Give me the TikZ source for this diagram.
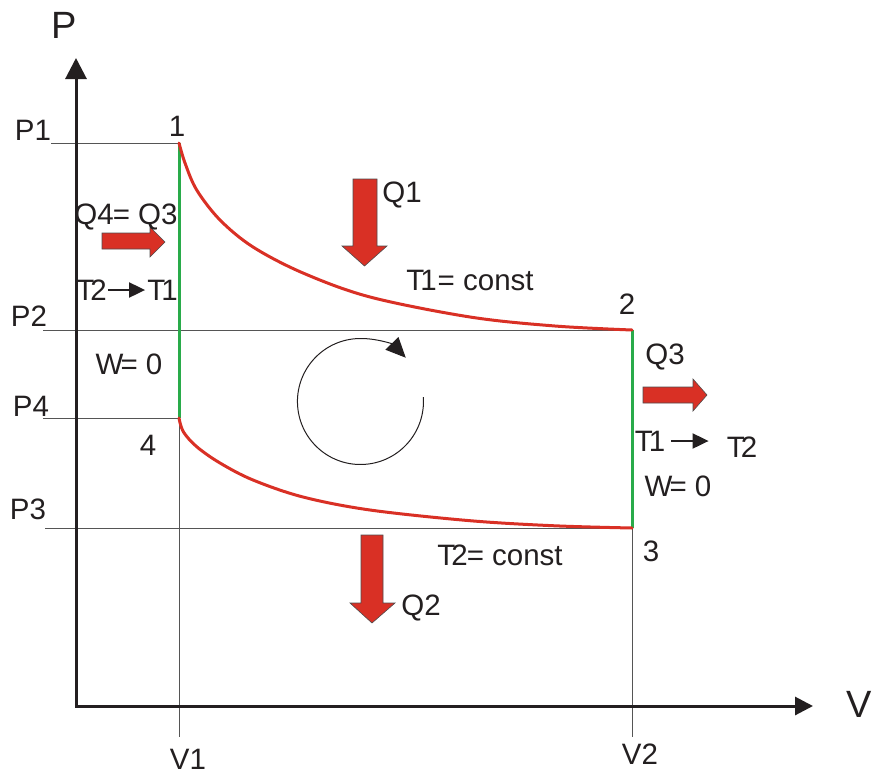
\documentclass[tikz,border=0pt]{standalone}
\usepackage{fontspec}
\setmainfont{Liberation Sans}
\usetikzlibrary{arrows.meta}
\definecolor{cred}{RGB}{217,48,37}
\definecolor{cgreen}{RGB}{41,171,74}
\definecolor{cgray}{RGB}{85,85,85}
\definecolor{cblack}{RGB}{35,31,32}
\begin{document}
\begin{tikzpicture}[x=1pt,y=-1pt,
  lbl/.style={inner sep=0pt, text=cblack, font=\fontsize{29.5}{32}\selectfont},
  biglbl/.style={inner sep=0pt, text=cblack, font=\fontsize{38}{40}\selectfont},
  guide/.style={draw=cgray, line width=1pt},
  axisline/.style={draw=cblack, line width=3pt, line join=miter},
  isochore/.style={draw=cgreen, line width=3pt},
  isotherm/.style={draw=cred, line width=3pt, line cap=round},
  heatarrow/.style={fill=cred, draw=cblack!80, line width=0.6pt, line join=miter},
  smallarrow/.style={draw=cblack, line width=2pt, -{Triangle[length=16pt,width=15pt]}},
  cycle arrow/.style={draw=cblack, line width=1pt, -{Triangle[length=20pt,width=18pt]}}
]
\useasboundingbox (0,0) rectangle (872,774);

% key coordinates
\coordinate (O) at (76,706);
\coordinate (ytip) at (76,58);
\coordinate (xtip) at (813,706);
\coordinate (s1) at (179,143);
\coordinate (s2) at (632,330);
\coordinate (s3) at (632,528);
\coordinate (s4) at (179,418);
\coordinate (p1s) at (51,143);
\coordinate (p2s) at (43,330);
\coordinate (p4s) at (43,418);
\coordinate (p3s) at (45,528);
\coordinate (v1e) at (179,737);
\coordinate (v2e) at (632,737);
\coordinate (cc) at (360.5,401.5);
\coordinate (cstart) at (423.3,397.1);

% guide lines
\draw[guide] (p1s) -- (s1);
\draw[guide] (p2s) -- (s2);
\draw[guide] (p4s) -- (s4);
\draw[guide] (p3s) -- (s3);
\draw[guide] (s1) -- (v1e);
\draw[guide] (s2) -- (v2e);

% axes
\draw[axisline, {Triangle[length=21pt,width=21pt]}-{Triangle[length=18pt,width=18pt]}] (ytip) |- (xtip);

% isochores
\draw[isochore] (s1) -- (s4);
\draw[isochore] (s2) -- (s3);

% isotherms
\draw[isotherm] plot[smooth, tension=0.55] coordinates {(s1) (185,163) (196.7,190) (220,220) (253,247) (303,273) (370,297) (470,317) (555,326) (s2)};
\draw[isotherm] plot[smooth, tension=0.55] coordinates {(s4) (183.3,431.7) (196.7,446.7) (220,463) (253,480) (303,497) (370,510) (470,520.7) (555,525.8) (s3)};

% cycle direction
\draw[cycle arrow] (cstart) arc[start angle=-4, end angle=316, radius=63];

% heat arrows
\draw[heatarrow] (102,233) -- (150,233) -- (150,227) -- (165,242) -- (150,257) -- (150,249) -- (102,249) -- cycle;
\draw[heatarrow] (643,387) -- (693,387) -- (693,379) -- (707,395) -- (693,411) -- (693,403) -- (643,403) -- cycle;
\draw[heatarrow] (353,179) -- (377,179) -- (377,246) -- (387,246) -- (364.5,266) -- (342,246) -- (353,246) -- cycle;
\draw[heatarrow] (361,535) -- (383,535) -- (383,603) -- (395,603) -- (372,623) -- (350,603) -- (361,603) -- cycle;

% labels
\node[biglbl] (lP) at (64,25) {P};
\node[biglbl] (lV) at (859,704) {V};
\node[lbl] (lP1) at (33,130) {P1};
\node[lbl] (lP2) at (29,316) {P2};
\node[lbl] (lP4) at (31,406) {P4};
\node[lbl] (lP3) at (28,509) {P3};
\node[lbl] (lV1) at (188,759) {V1};
\node[lbl] (lV2) at (640,754) {V2};
\node[lbl] (l1) at (177,126) {1};
\node[lbl] (l2) at (627,304) {2};
\node[lbl] (l3) at (651,551) {3};
\node[lbl] (l4) at (148,445) {4};
\node[lbl] (lQ1) at (402,195) {Q1};
\node[lbl] (lQ2) at (421,608) {Q2};
\node[lbl] (lQ3) at (665,357) {Q3};
\node[lbl] (lQ43) at (126,217) {Q4\kern-1pt= Q3};
\node[lbl] (lT1c) at (470,280) {T\kern-4pt1\kern1pt= const};
\node[lbl] (lT2c) at (500,555) {T\kern-4pt2\kern-1pt= const};
\node[lbl] (lWa) at (129,364) {W\kern-3pt= 0};
\node[lbl] (lWb) at (678,486) {W\kern-3pt= 0};
\node[lbl] (lT2a) at (91.5,290) {T\kern-4pt2};
\node[lbl] (lT1a) at (162.5,290) {T\kern-4pt1};
\node[lbl] (lT1b) at (650,441) {T\kern-4pt1};
\node[lbl] (lT2b) at (742,447) {T\kern-4pt2};
\draw[smallarrow, shorten <=1pt, shorten >=2pt] (lT2a.east) -- (lT1a.west);
\draw[smallarrow, shorten <=6pt, shorten >=18pt] (lT1b.east) -- (lT2b.west |- lT1b.east);
\end{tikzpicture}
\end{document}
